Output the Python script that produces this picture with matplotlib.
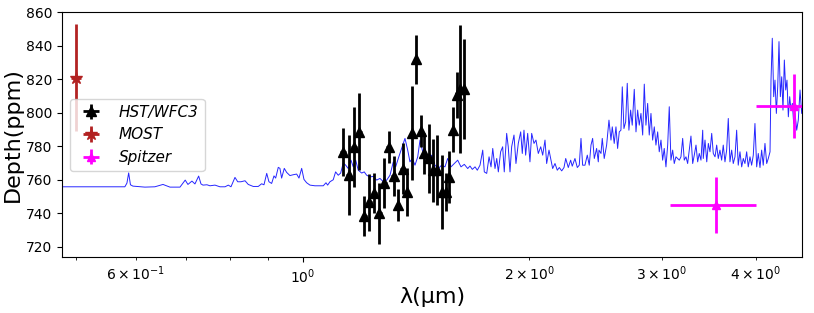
import numpy as np
import matplotlib.pyplot as plt

# HST/WFC3 points
hst_wl = [1.132, 1.151, 1.170, 1.189, 1.207, 1.226, 1.245, 1.264, 1.283, 1.301,
          1.321, 1.339, 1.358, 1.375, 1.396, 1.414, 1.435, 1.451, 1.470, 1.488,
          1.507, 1.530, 1.550, 1.566, 1.582, 1.602, 1.618, 1.639]
hst_depth = [776.7, 762.7, 779.7, 788.6, 738.2, 746.6, 752.2, 739.9, 758.1, 779.7,
             762.3, 744.8, 766.7, 752.8, 787.7, 831.9, 789.0, 775.7, 772.7, 765.7,
             765.7, 752.8, 752.8, 761.4, 790.0, 810.6, 814.2, 814.2]
hst_err = [14.5, 24, 24, 23, 12, 17, 12, 18, 15, 9.5,
           12, 9.7, 15, 14.5, 28, 14.5, 9.5, 12, 20.6, 18.8,
           21, 22, 11.5, 15.5, 13.5, 14, 38.5, 30]
hst_xerr = 0.0094

# MOST point
most_wl = [0.5]
most_depth = [821]
most_err = [32]
most_xerr = [0.008]

# Spitzer points
spitzer_wl = [3.54, 4.5]
spitzer_depth = [745, 804]
spitzer_err = [16.5, 19]
spitzer_xerr = [0.46, 0.5]

# model spectrum
model_wl = [0.479, 0.5805, 0.5842, 0.5873, 0.5905, 0.5950, 0.6172, 0.6363, 0.6523, 0.6664,
            0.6871, 0.6982, 0.7040, 0.7127, 0.7193, 0.7275, 0.7327, 0.7372, 0.7462, 0.7531,
            0.7647, 0.7764, 0.7886, 0.7966, 0.8031, 0.8130, 0.8198, 0.8280, 0.8384, 0.8467,
            0.8597, 0.8730, 0.8820, 0.8884, 0.8959, 0.9020, 0.9095, 0.9160, 0.9207, 0.9281,
            0.9328, 0.9377, 0.9453, 0.9522, 0.9618, 0.9716, 0.9818, 0.9888, 0.9970, 1.0040,
            1.0123, 1.0226, 1.0383, 1.0544, 1.0651, 1.0739, 1.0794, 1.0871, 1.0980, 1.1060,
            1.1150, 1.1233, 1.1323, 1.1406, 1.1497, 1.1592, 1.1674, 1.1760, 1.1854, 1.1979,
            1.2072, 1.2162, 1.2286, 1.2411, 1.2540, 1.2668, 1.2798, 1.2931, 1.3062, 1.3195,
            1.3290, 1.3397, 1.3537, 1.3675, 1.3789, 1.3885, 1.3984, 1.4100, 1.4218, 1.4318,
            1.4420, 1.4540, 1.4685, 1.4840, 1.4988, 1.5139, 1.5297, 1.5453, 1.5582, 1.5740,
            1.5901, 1.6067, 1.6230, 1.6396, 1.6567, 1.6683, 1.6803, 1.6943, 1.7061, 1.7203,
            1.7346, 1.7430, 1.7559, 1.7685, 1.7792, 1.7886, 1.8010, 1.8106, 1.8194, 1.8323,
            1.8437, 1.8527, 1.8664, 1.8754, 1.8855, 1.8951, 1.9087, 1.9202, 1.9339, 1.9482,
            1.9577, 1.9679, 1.9780, 1.9903, 2.0042, 2.0148, 2.0292, 2.0414, 2.0560, 2.0713,
            2.0838, 2.0986, 2.1093, 2.1244, 2.1372, 2.1484, 2.1638, 2.1789, 2.1925, 2.2087,
            2.2241, 2.2359, 2.2535, 2.2699, 2.2810, 2.3000, 2.3165, 2.3305, 2.3428, 2.3546,
            2.3714, 2.3884, 2.4028, 2.4155, 2.4278, 2.4401, 2.4576, 2.4701, 2.4752, 2.4906,
            2.5003, 2.5153, 2.5339, 2.5521, 2.5679, 2.5780, 2.5935, 2.6073, 2.6205, 2.6338,
            2.6472, 2.6582, 2.6717, 2.6859, 2.6989, 2.7126, 2.7270, 2.7403, 2.7574, 2.7720,
            2.7861, 2.7997, 2.8145, 2.8294, 2.8432, 2.8577, 2.8728, 2.8867, 2.9020, 2.9168,
            2.9316, 2.9465, 2.9621, 2.9765, 2.9923, 3.0075, 3.0221, 3.0381, 3.0542, 3.0690,
            3.0847, 3.1011, 3.1162, 3.1326, 3.1486, 3.1646, 3.1807, 3.1975, 3.2130, 3.2300,
            3.2465, 3.2630, 3.2796, 3.2970, 3.3130, 3.3306, 3.3476, 3.3638, 3.3817, 3.3996,
            3.4054, 3.4235, 3.4420, 3.4587, 3.4761, 3.4945, 3.5115, 3.5302, 3.5481, 3.5654,
            3.5836, 3.6024, 3.6200, 3.6392, 3.6579, 3.6762, 3.6950, 3.7146, 3.7325, 3.7524,
            3.7715, 3.7899, 3.8100, 3.8302, 3.8488, 3.8684, 3.8889, 3.9078, 3.9285, 3.9485,
            3.9685, 3.9887, 4.0098, 4.0293, 4.0507, 4.0713, 4.0911, 4.1128, 4.1347, 4.1548,
            4.1769, 4.1894, 4.2059, 4.2243, 4.2409, 4.2585, 4.2763, 4.2931, 4.3110, 4.3289,
            4.3459, 4.3639, 4.3821, 4.3993, 4.4176, 4.4360, 4.4534, 4.4719, 4.4905, 4.5092,
            4.5321, 4.5541, 4.5783, 4.6015, 4.6207]
model_depth = [755.8, 755.8, 758.0, 764.1, 757.0, 756.2, 755.6, 755.8, 757.2, 755.6,
               755.6, 759.8, 757.2, 759.2, 757.5, 762.2, 757.5, 756.8, 757.0, 756.4,
               756.8, 755.8, 755.8, 756.8, 755.8, 761.4, 758.8, 758.8, 759.4, 757.2,
               756.0, 756.0, 757.6, 757.0, 763.8, 758.8, 757.8, 762.3, 761.0, 767.4,
               766.8, 761.0, 766.8, 764.4, 762.5, 763.0, 763.4, 761.0, 766.8, 760.2,
               758.2, 756.8, 756.4, 756.4, 756.4, 758.2, 756.8, 758.8, 760.0, 764.7,
               762.7, 764.0, 770.1, 768.7, 766.7, 771.7, 767.7, 771.7, 765.7, 764.0,
               764.7, 762.7, 761.7, 762.0, 759.8, 760.8, 758.8, 759.8, 762.7, 770.7,
               767.7, 772.7, 778.7, 784.7, 777.7, 770.7, 772.7, 768.7, 773.7, 783.7,
               777.7, 773.7, 770.7, 774.7, 768.7, 766.7, 768.7, 767.7, 772.7, 767.7,
               769.7, 771.7, 767.7, 769.2, 766.7, 768.2, 766.2, 767.7, 765.7, 768.7,
               777.7, 764.7, 763.8, 773.7, 767.7, 778.7, 766.7, 772.7, 764.7, 776.7,
               779.7, 764.7, 787.7, 779.7, 764.7, 779.7, 786.7, 769.7, 781.7, 788.6,
               775.7, 789.6, 774.7, 787.7, 770.7, 787.7, 781.7, 783.7, 775.7, 779.7,
               774.7, 783.7, 769.7, 777.7, 771.7, 766.7, 769.7, 765.7, 767.3, 765.3,
               767.3, 772.7, 767.3, 771.7, 768.1, 772.7, 767.3, 768.7, 784.7, 768.7,
               768.7, 774.7, 768.7, 780.7, 784.7, 772.7, 778.7, 770.7, 777.7, 775.7,
               784.7, 772.7, 780.7, 795.6, 783.7, 791.6, 781.7, 791.6, 778.7, 788.6,
               789.6, 815.5, 790.6, 794.6, 817.6, 789.6, 801.6, 792.6, 814.0, 788.6,
               801.6, 792.6, 799.6, 786.7, 817.1, 792.6, 805.6, 786.7, 799.6, 783.7,
               791.6, 780.7, 788.6, 776.7, 783.7, 771.7, 778.7, 767.7, 780.7, 803.6,
               771.7, 777.7, 769.7, 773.7, 772.7, 771.7, 773.7, 784.7, 771.7, 773.7,
               769.7, 777.7, 786.1, 769.7, 774.7, 780.7, 770.7, 775.7, 771.7, 789.6,
               772.7, 783.7, 770.7, 781.7, 776.7, 787.7, 775.7, 773.7, 780.7, 772.7,
               777.7, 771.7, 780.7, 770.7, 777.7, 796.6, 770.7, 777.7, 769.7, 773.7,
               789.6, 768.7, 776.7, 767.7, 772.7, 769.7, 776.7, 767.7, 773.7, 768.7,
               774.7, 793.6, 767.7, 775.7, 767.3, 777.7, 768.7, 781.7, 769.7, 772.7,
               776.7, 819.5, 844.5, 809.6, 819.5, 799.6, 815.5, 842.5, 809.6, 821.5,
               801.6, 831.5, 813.6, 819.5, 797.6, 809.6, 801.6, 805.6, 793.6, 799.6,
               789.6, 795.6, 813.6, 799.6, 805.6]

fig = plt.figure(figsize=(8.14, 3.13), dpi=100)
ax = fig.add_axes([0.0762, 0.178, 0.9094, 0.7827])

ax.plot(model_wl, model_depth, color='blue', lw=0.7, alpha=0.85)

ax.errorbar(hst_wl, hst_depth, yerr=hst_err, xerr=hst_xerr, fmt='^', color='black',
            ms=7, elinewidth=2, label='HST/WFC3')
ax.errorbar(most_wl, most_depth, yerr=most_err, xerr=most_xerr, fmt='*', color='#b22222',
            ms=9, elinewidth=2, label='MOST')
ax.errorbar(spitzer_wl, spitzer_depth, yerr=spitzer_err, xerr=spitzer_xerr, fmt='^',
            color='magenta', ms=6, elinewidth=2, label='Spitzer')

ax.set_xscale('log')
ax.set_xlim(0.479, 4.61)
ax.set_ylim(713.7, 860)
ax.set_xlabel('λ(μm)', fontsize=16, labelpad=1)
ax.set_ylabel('Depth(ppm)', fontsize=16, labelpad=2)

leg = ax.legend(loc='center left', prop={'size': 11, 'style': 'italic'})

fig.savefig('out.png', dpi=100)
